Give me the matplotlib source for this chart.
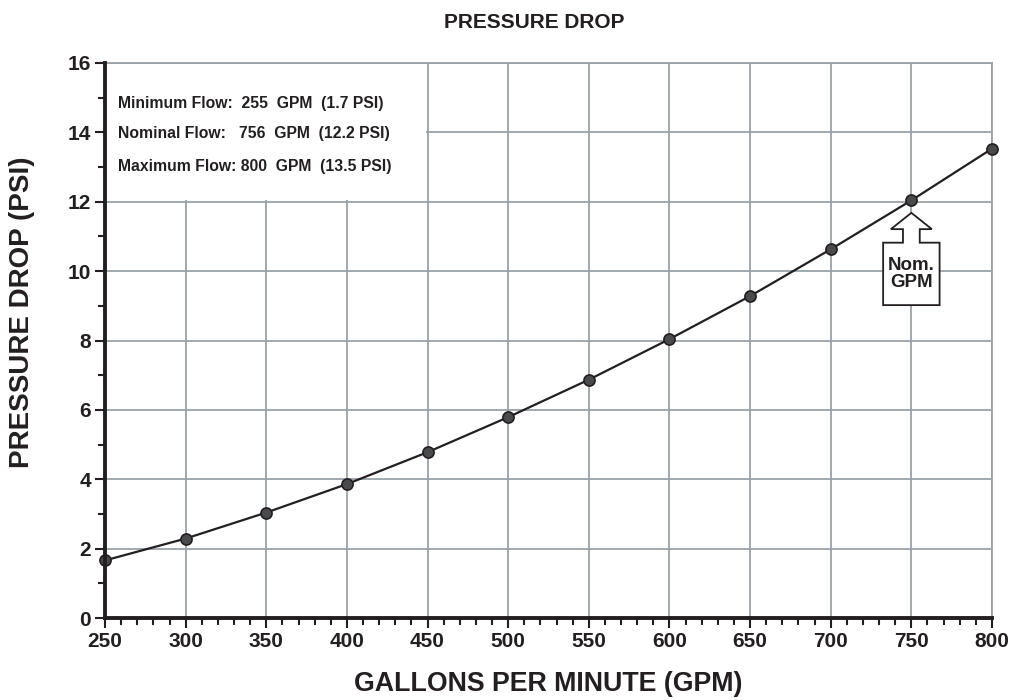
import matplotlib
matplotlib.use("Agg")
import matplotlib.pyplot as plt
from matplotlib.patches import Rectangle, Polygon
from matplotlib.ticker import MultipleLocator

plt.rcParams['font.family'] = ['Liberation Sans', 'DejaVu Sans']

gpm = [250, 300, 350, 400, 450, 500, 550, 600, 650, 700, 750, 800]
psi = [1.66, 2.29, 3.04, 3.86, 4.78, 5.79, 6.87, 8.04, 9.28, 10.63, 12.04, 13.53]

title = "PRESSURE DROP"
xlabel = "GALLONS PER MINUTE (GPM)"
ylabel = "PRESSURE DROP (PSI)"
info_lines = ["Minimum Flow:  255  GPM  (1.7 PSI)",
              "Nominal Flow:   756  GPM  (12.2 PSI)",
              "Maximum Flow: 800  GPM  (13.5 PSI)"]
nom_x = 750
nom_label = "Nom.\nGPM"

fig = plt.figure(figsize=(10.11, 7), dpi=100)
ax = fig.add_axes([105/1011, 1-618/700, 887/1011, 555/700])
ax.set_xlim(250, 800)
ax.set_ylim(0, 16)

gridc = '#9aa1a8'
ax.xaxis.set_major_locator(MultipleLocator(50))
ax.xaxis.set_minor_locator(MultipleLocator(10))
ax.yaxis.set_major_locator(MultipleLocator(2))
ax.yaxis.set_minor_locator(MultipleLocator(1))
ax.grid(True, which='major', color=gridc, linewidth=1.3, zorder=0)
ax.set_axisbelow(True)

for s in ['left', 'bottom']:
    ax.spines[s].set_color('#231f20')
    ax.spines[s].set_linewidth(2.8)
    ax.spines[s].set_zorder(5)
for s in ['top', 'right']:
    ax.spines[s].set_color(gridc)
    ax.spines[s].set_linewidth(1.3)

ax.tick_params(which='major', direction='out', length=7, width=1.5, color='#231f20',
               labelsize=15, pad=3)
ax.tick_params(which='minor', direction='out', length=5, width=1.5, color='#231f20')
for lab in ax.get_xticklabels() + ax.get_yticklabels():
    lab.set_fontweight('bold')
    lab.set_color('#231f20')

# white info box covering grid
ax.add_patch(Rectangle((250, 12.06), 198.8, 3.9, facecolor='white', edgecolor='none', zorder=1))
ys = [14.84, 13.97, 13.02]
for t, yv in zip(info_lines, ys):
    ax.text(258, yv, t, fontsize=11.3, fontweight='bold', color='#231f20',
            va='center', ha='left', zorder=3)

ax.plot(gpm, psi, color='#231f20', linewidth=1.6, marker='o', markersize=8,
        markerfacecolor='#4a4a4d', markeredgecolor='#231f20', markeredgewidth=1.2,
        zorder=4, clip_on=False)

# Nom. GPM arrow callout
tip = 11.68
sh = 11.21
bt = 10.82
bb = 9.02
hw, sw, bw = 12.7, 5.2, 17.5
poly = [(nom_x, tip), (nom_x + hw, sh), (nom_x + sw, sh), (nom_x + sw, bt),
        (nom_x + bw, bt), (nom_x + bw, bb), (nom_x - bw, bb), (nom_x - bw, bt),
        (nom_x - sw, bt), (nom_x - sw, sh), (nom_x - hw, sh)]
ax.add_patch(Polygon(poly, closed=True, facecolor='white', edgecolor='#231f20',
                     linewidth=1.3, zorder=3))
ax.text(nom_x, (bt + bb) / 2, nom_label, ha='center', va='center', fontsize=13.5,
        fontweight='bold', color='#231f20', linespacing=0.95, zorder=4)

fig.text(534/1011, 1-22/700, title, ha='center', va='center', fontsize=15,
         fontweight='bold', color='#231f20')
fig.text(548/1011, 1-684/700, xlabel, ha='center', va='center', fontsize=19.3,
         fontweight='bold', color='#231f20')
fig.text(22/1011, 1-312/700, ylabel, ha='center', va='center', fontsize=20,
         fontweight='bold', color='#231f20', rotation=90)

fig.savefig('out.png', dpi=100, facecolor='white')
